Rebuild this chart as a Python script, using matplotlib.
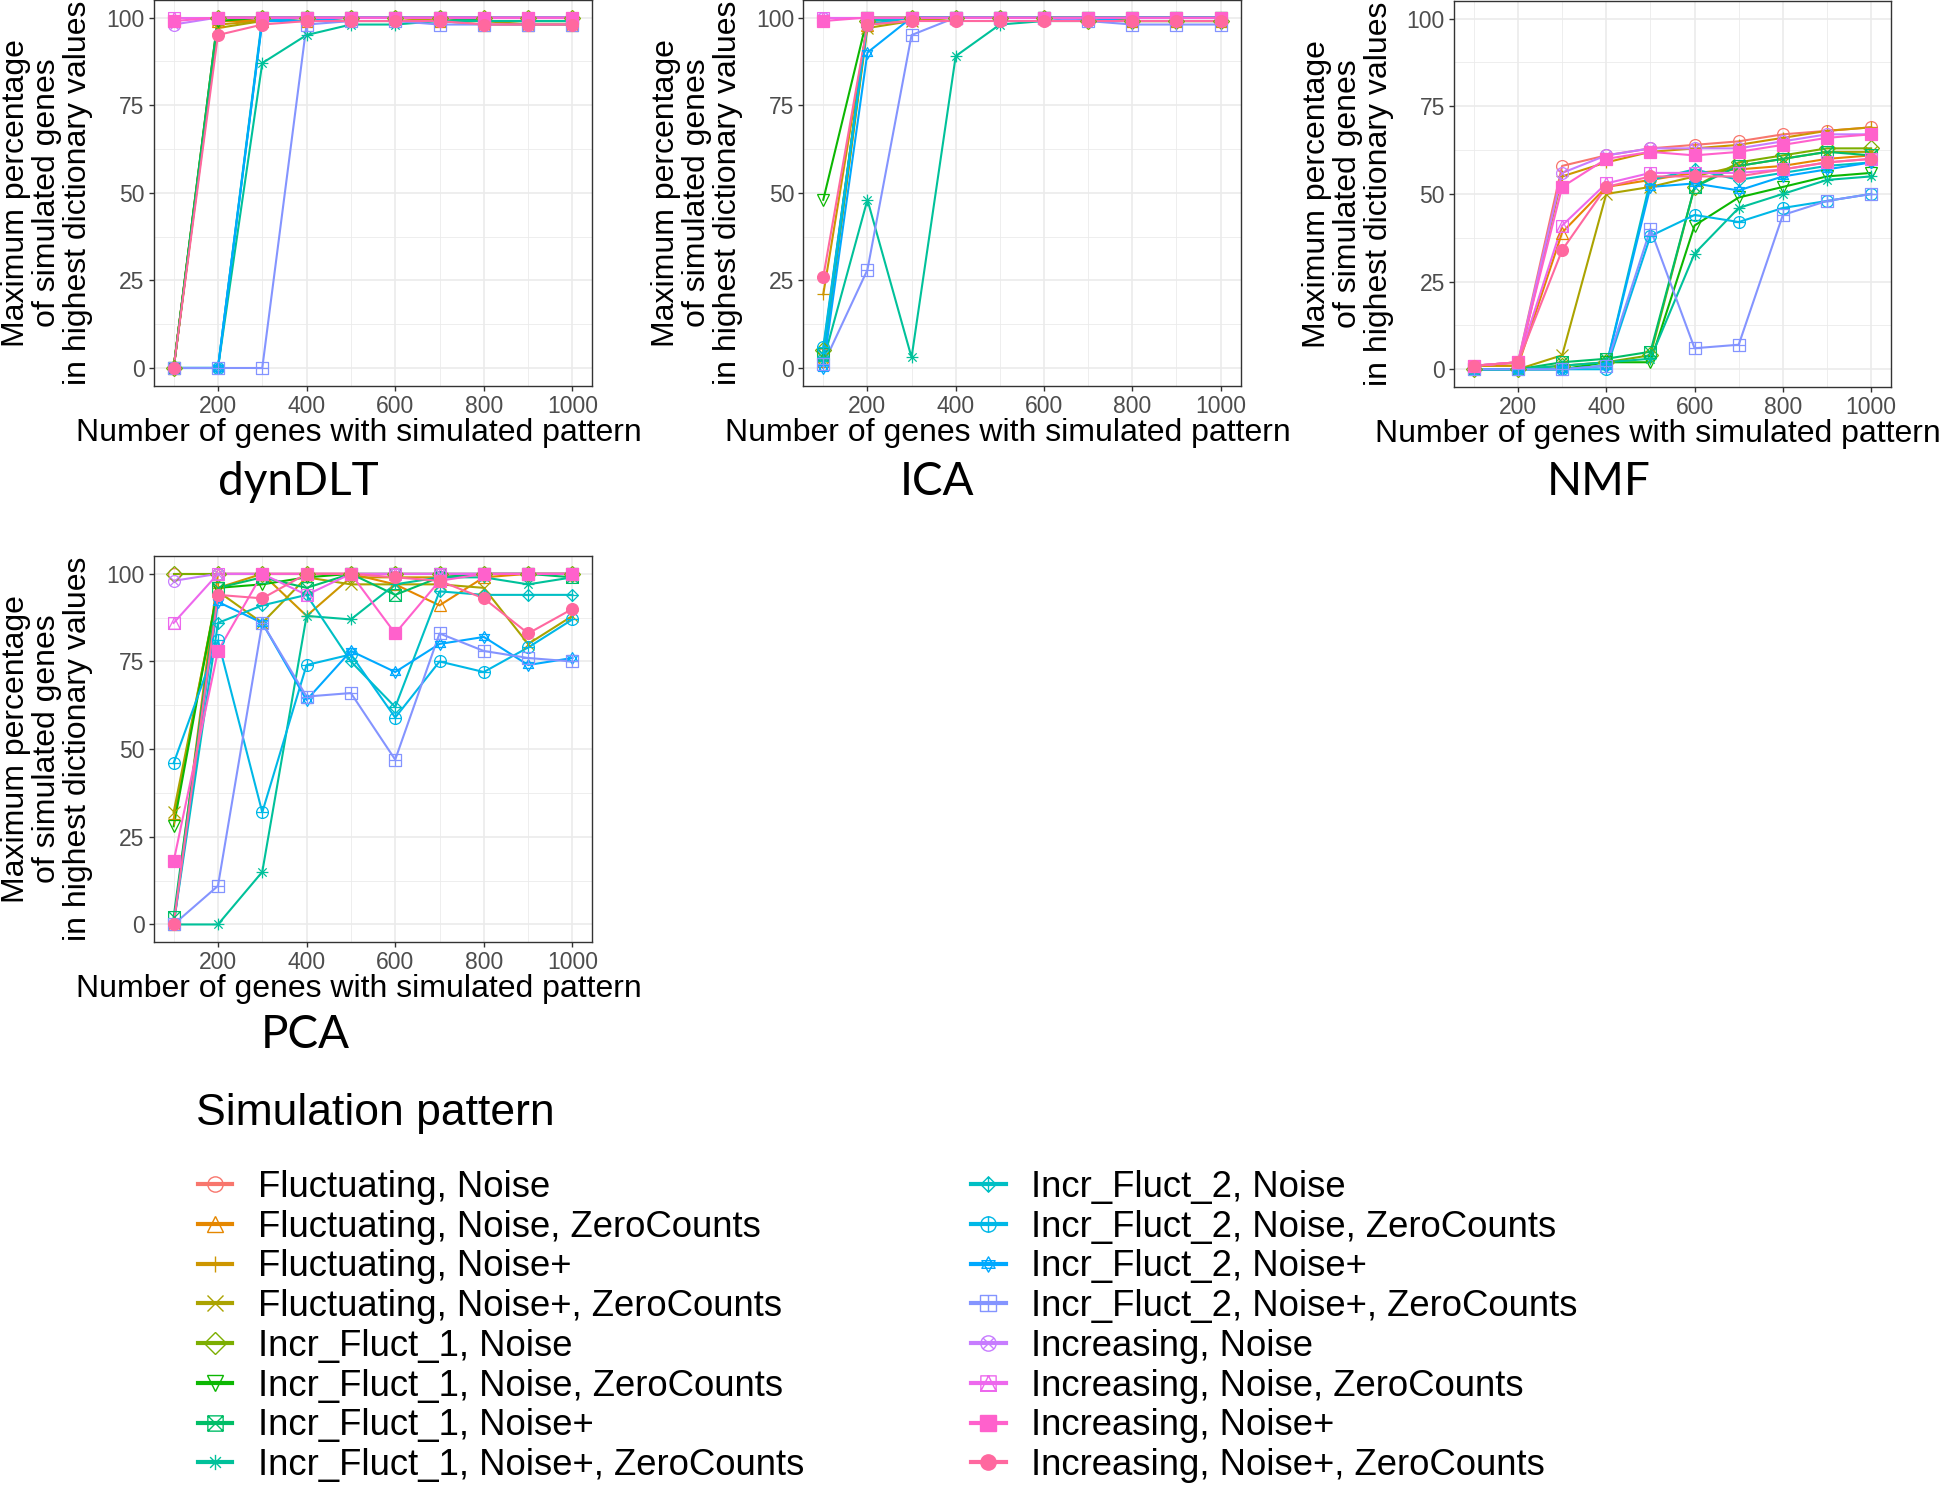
import numpy as np
import matplotlib
matplotlib.use("Agg")
import matplotlib.pyplot as plt
import matplotlib.path as mpath
from matplotlib.lines import Line2D

plt.rcParams['font.family'] = ['Liberation Sans', 'DejaVu Sans']

# ---- data ----
genes = [100, 200, 300, 400, 500, 600, 700, 800, 900, 1000]

patterns = [
    "Fluctuating, Noise", "Fluctuating, Noise, ZeroCounts", "Fluctuating, Noise+",
    "Fluctuating, Noise+, ZeroCounts", "Incr_Fluct_1, Noise", "Incr_Fluct_1, Noise, ZeroCounts",
    "Incr_Fluct_1, Noise+", "Incr_Fluct_1, Noise+, ZeroCounts", "Incr_Fluct_2, Noise",
    "Incr_Fluct_2, Noise, ZeroCounts", "Incr_Fluct_2, Noise+", "Incr_Fluct_2, Noise+, ZeroCounts",
    "Increasing, Noise", "Increasing, Noise, ZeroCounts", "Increasing, Noise+",
    "Increasing, Noise+, ZeroCounts",
]

dyndlt = [
    [0, 100, 99, 100, 100, 100, 100, 99, 99, 99],
    [0, 99, 99, 99, 100, 100, 99, 98, 98, 98],
    [0, 98, 99, 99, 99, 99, 99, 99, 98, 98],
    [0, 97, 99, 100, 100, 100, 99, 99, 99, 99],
    [0, 100, 100, 100, 100, 100, 100, 100, 100, 100],
    [0, 99, 100, 100, 100, 100, 100, 99, 99, 99],
    [0, 100, 100, 100, 100, 100, 100, 99, 99, 99],
    [0, 0, 87, 95, 98, 98, 99, 99, 99, 99],
    [0, 0, 100, 100, 100, 100, 100, 100, 100, 100],
    [0, 0, 99, 100, 100, 100, 100, 100, 100, 100],
    [0, 0, 99, 99, 100, 100, 100, 100, 100, 100],
    [0, 0, 0, 98, 99, 99, 98, 98, 98, 98],
    [98, 100, 100, 100, 100, 100, 100, 100, 100, 100],
    [100, 100, 100, 100, 100, 100, 100, 100, 100, 100],
    [99, 100, 100, 100, 100, 100, 100, 100, 100, 100],
    [0, 95, 98, 99, 99, 99, 99, 98, 98, 98],
]

ica = [
    [4, 99, 100, 100, 100, 100, 100, 100, 100, 100],
    [2, 98, 100, 100, 100, 100, 100, 99, 99, 99],
    [21, 98, 99, 100, 100, 100, 100, 100, 100, 100],
    [3, 97, 99, 100, 100, 100, 100, 99, 99, 99],
    [5, 99, 100, 100, 100, 100, 99, 99, 99, 99],
    [48, 100, 100, 100, 100, 100, 100, 100, 100, 100],
    [4, 99, 100, 100, 100, 100, 100, 100, 100, 100],
    [2, 48, 3, 89, 98, 99, 99, 99, 99, 99],
    [3, 99, 100, 100, 100, 100, 100, 100, 100, 100],
    [6, 98, 100, 100, 100, 100, 100, 100, 100, 100],
    [0, 90, 100, 100, 100, 100, 99, 100, 100, 100],
    [1, 28, 95, 100, 100, 100, 99, 98, 98, 98],
    [100, 100, 100, 100, 100, 100, 100, 100, 100, 100],
    [100, 100, 100, 100, 100, 100, 100, 100, 100, 100],
    [99, 100, 100, 100, 100, 100, 100, 100, 100, 100],
    [26, 98, 99, 99, 99, 99, 99, 99, 99, 99],
]

nmf = [
    [1, 2, 58, 61, 63, 64, 65, 67, 68, 69],
    [1, 1, 39, 52, 54, 56, 57, 58, 60, 61],
    [1, 1, 55, 59, 62, 63, 64, 66, 68, 69],
    [0, 0, 4, 50, 52, 55, 58, 60, 62, 62],
    [0, 0, 1, 2, 4, 52, 59, 61, 63, 63],
    [0, 0, 0, 2, 2, 41, 49, 52, 55, 56],
    [0, 0, 2, 3, 5, 52, 58, 60, 62, 61],
    [0, 0, 1, 2, 3, 33, 46, 50, 54, 55],
    [0, 0, 0, 1, 54, 57, 54, 56, 58, 59],
    [0, 0, 0, 0, 38, 44, 42, 46, 48, 50],
    [0, 0, 0, 1, 52, 53, 51, 55, 57, 59],
    [0, 0, 0, 1, 40, 6, 7, 44, 48, 50],
    [1, 2, 56, 61, 63, 63, 63, 65, 67, 67],
    [1, 2, 41, 53, 56, 56, 56, 57, 59, 60],
    [1, 2, 52, 60, 62, 61, 62, 64, 66, 67],
    [1, 2, 34, 52, 55, 55, 55, 57, 59, 60],
]

pca = [
    [100, 100, 100, 100, 100, 100, 100, 100, 100, 100],
    [0, 100, 100, 100, 100, 97, 91, 99, 100, 100],
    [30, 96, 100, 88, 99, 99, 99, 100, 100, 100],
    [32, 95, 86, 99, 97, 97, 97, 96, 80, 88],
    [100, 100, 100, 100, 100, 100, 100, 100, 100, 100],
    [28, 96, 97, 99, 100, 100, 100, 100, 100, 100],
    [2, 96, 99, 96, 100, 94, 99, 100, 100, 99],
    [0, 0, 15, 88, 87, 97, 99, 99, 97, 99],
    [0, 86, 91, 94, 75, 62, 95, 94, 94, 94],
    [46, 81, 32, 74, 77, 59, 75, 72, 79, 87],
    [0, 92, 86, 64, 78, 72, 80, 82, 74, 76],
    [0, 11, 86, 65, 66, 47, 83, 78, 76, 75],
    [98, 100, 100, 100, 100, 100, 100, 100, 100, 100],
    [86, 100, 100, 94, 100, 100, 100, 100, 100, 100],
    [18, 78, 100, 100, 100, 83, 98, 100, 100, 100],
    [0, 94, 93, 100, 100, 99, 98, 93, 83, 90],
]

colors = ["#F8766D", "#E58700", "#CD9600", "#ABA300", "#7CAE00", "#0CB702", "#00BE67", "#00C19A",
          "#00BFC4", "#00B8E7", "#00A9FF", "#8494FF", "#C77CFF", "#ED68ED", "#FF61CC", "#FF689F"]


# ---- ggplot-like point shapes ----
def shape(*parts):
    verts, codes = [], []
    for p in parts:
        verts.extend(p.vertices)
        codes.extend(p.codes if p.codes is not None else
                     [mpath.Path.MOVETO] + [mpath.Path.LINETO] * (len(p.vertices) - 1))
    return mpath.Path(verts, codes)


def poly(pts):
    pts = list(pts) + [pts[0]]
    return mpath.Path(pts, [mpath.Path.MOVETO] + [mpath.Path.LINETO] * (len(pts) - 2) + [mpath.Path.CLOSEPOLY])


def seg(a, b):
    return mpath.Path([a, b], [mpath.Path.MOVETO, mpath.Path.LINETO])


circ = mpath.Path.unit_circle()
sq = poly([(-1, -1), (1, -1), (1, 1), (-1, 1)])
dia = poly([(0, -1), (1, 0), (0, 1), (-1, 0)])
tri_up = poly([(0, 1), (-0.866, -0.5), (0.866, -0.5)])
tri_dn = poly([(0, -1), (0.866, 0.5), (-0.866, 0.5)])
plus_h, plus_v = seg((-1, 0), (1, 0)), seg((0, -1), (0, 1))
s = 0.7071
x1, x2 = seg((-s, -s), (s, s)), seg((-s, s), (s, -s))
c1, c2 = seg((-1, -1), (1, 1)), seg((-1, 1), (1, -1))

markers = [
    'o', '^', '+', 'x', 'D', 'v',
    shape(sq, c1, c2),
    shape(plus_h, plus_v, x1, x2),
    shape(dia, plus_h, plus_v),
    shape(circ, plus_h, plus_v),
    shape(tri_up, tri_dn),
    shape(sq, plus_h, plus_v),
    shape(circ, x1, x2),
    shape(sq, poly([(0, 1), (-1, -1), (1, -1)])),
    's', 'o',
]
filled = [False] * 14 + [True, True]


# ---- layout ----
W, H = 1943, 1485
fig = plt.figure(figsize=(W / 100, H / 100), dpi=100)


def rect(l, r, t, b):
    return [l / W, 1 - b / H, (r - l) / W, (b - t) / H]


panels = [
    ("dynDLT", dyndlt, rect(153.7, 592.4, 0, 385.5), (298, 482)),
    ("ICA", ica, rect(803.4, 1240.5, 0, 385.5), (937, 482)),
    ("NMF", nmf, rect(1454, 1891, 1.1, 386.8), (1599, 482)),
    ("PCA", pca, rect(153.7, 592.4, 556.3, 942), (305, 1035)),
]

for name, values, r, (tx, ty) in panels:
    ax = fig.add_axes(r)
    for i, ys in enumerate(values):
        ax.plot(genes, ys, color=colors[i], lw=1.5, zorder=2)
    for i, ys in enumerate(values):
        ax.plot(genes, ys, ls='none', marker=markers[i], ms=8.5, mew=0.9,
                mec=colors[i], mfc=colors[i] if filled[i] else 'none', zorder=3)
    ax.set_xlim(55, 1045)
    ax.set_ylim(-5, 105)
    ax.set_xticks([200, 400, 600, 800, 1000])
    ax.set_yticks([0, 25, 50, 75, 100])
    ax.set_xticks([100, 300, 500, 700, 900], minor=True)
    ax.set_yticks([12.5, 37.5, 62.5, 87.5], minor=True)
    ax.grid(which='major', color='#EBEBEB', lw=1.2, zorder=0)
    ax.grid(which='minor', color='#EBEBEB', lw=0.6, zorder=0)
    ax.set_axisbelow(True)
    ax.tick_params(which='major', length=3.5, width=1, color='#333333',
                   labelsize=16.5, labelcolor='#4D4D4D', pad=3)
    ax.tick_params(which='minor', length=0)
    for sp in ax.spines.values():
        sp.set_color('#333333')
        sp.set_linewidth(1.0)
    ax.set_xlabel("Number of genes with simulated pattern", fontsize=23, va='center')
    ax.xaxis.set_label_coords(0.4675, -0.122)
    ax.set_ylabel("Maximum percentage\nof simulated genes\nin highest dictionary values",
                  fontsize=23, va='center', ha='center', linespacing=1.05)
    ax.yaxis.set_label_coords(-0.243, 0.5)
    fig.text(tx / W, 1 - ty / H, name, fontsize=33, family=['Lato', 'DejaVu Sans'],
             ha='center', va='center')

# ---- legend ----
fig.text(196 / W, 1 - 1113 / H, "Simulation pattern", fontsize=32, ha='left', va='center')
handles = [Line2D([], [], color=colors[i], lw=3, marker=markers[i], ms=11, mew=1.0,
                  mec=colors[i], mfc=colors[i] if filled[i] else 'none')
           for i in range(len(patterns))]
fig.legend(handles, patterns, loc='upper left', bbox_to_anchor=(198 / W, 1 - 1170 / H),
           ncol=2, frameon=False, fontsize=26.3, handlelength=0.94, handletextpad=0.7,
           columnspacing=4.57, labelspacing=0.13, borderpad=0, borderaxespad=0)

fig.savefig("out.png", dpi=100)
